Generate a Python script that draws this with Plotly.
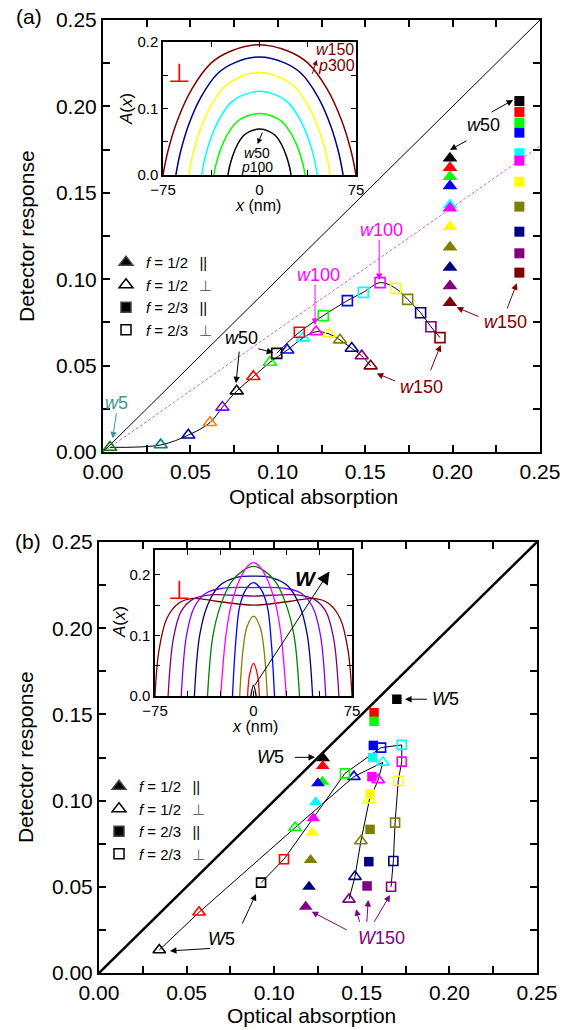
import plotly.graph_objects as go

W, H = 569, 1030
FONT = "Liberation Sans, Arial, sans-serif"

# ---------------- Panel (a) data ----------------
# open triangles, f = 1/2, perpendicular (w5 ... w150)
a_tri_open_x = [0.0040, 0.0330, 0.0488, 0.0612, 0.0683, 0.0765, 0.0860, 0.0955, 0.1054, 0.1144,
                0.1219, 0.1293, 0.1356, 0.1423, 0.1480, 0.1531]
a_tri_open_y = [0.0027, 0.0041, 0.0098, 0.0170, 0.0259, 0.0353, 0.0436, 0.0519, 0.0590, 0.0660,
                0.0696, 0.0683, 0.0648, 0.0600, 0.0556, 0.0498]
a_tri_open_c = ['#008000', '#008080', '#0000a0', '#ff8000', '#8000ff', '#000000', '#ff0000', '#00ff00',
                '#0000ff', '#00ffff', '#ff00ff', '#ffff00', '#808000', '#000080', '#800080', '#800000']
# open squares, f = 2/3, perpendicular (w50 ... w150)
a_sq_open_x = [0.0994, 0.1123, 0.1260, 0.1398, 0.1489, 0.1585, 0.1674, 0.1743, 0.1817, 0.1876, 0.1928]
a_sq_open_y = [0.0571, 0.0693, 0.0789, 0.0876, 0.0924, 0.0980, 0.0947, 0.0883, 0.0806, 0.0725, 0.0662]
# filled triangles, f = 1/2, parallel (w50 ... w150)
a_tri_fill_x = [0.1985] * 11
a_tri_fill_y = [0.1700, 0.1645, 0.1593, 0.1539, 0.1429, 0.1410, 0.1304, 0.1185, 0.1067, 0.0961, 0.0864]
# filled squares, f = 2/3, parallel (w50 ... w150)
a_sq_fill_x = [0.2382] * 11
a_sq_fill_y = [0.2031, 0.1968, 0.1906, 0.1848, 0.1729, 0.1686, 0.1564, 0.1420, 0.1275, 0.1150, 0.1038]
colors11 = ['#000000', '#ff0000', '#00ff00', '#0000ff', '#00ffff', '#ff00ff', '#ffff00', '#808000',
            '#000080', '#800080', '#800000']
diag_x = [0, 0.25]
diag_y = [0, 0.25]
a_dash_x = [0, 0.25]
a_dash_y = [0, 0.1771]

# inset (a) absorption profiles
ia_curves = [
    ('#800000', [-75, -71.25, -63.75, -52.5, -37.5, -22.5, 0, 22.5, 37.5, 52.5, 63.75, 71.25, 75],
     [0, 0.0353, 0.0823, 0.1294, 0.1686, 0.1862, 0.196, 0.1862, 0.1686, 0.1294, 0.0823, 0.0353, 0]),
    ('#000080', [-65, -61.75, -55.25, -45.5, -32.5, -19.5, 0, 19.5, 32.5, 45.5, 55.25, 61.75, 65],
     [0, 0.032, 0.0746, 0.1172, 0.1527, 0.1686, 0.1775, 0.1686, 0.1527, 0.1172, 0.0746, 0.032, 0]),
    ('#ffff00', [-55, -52.25, -46.75, -38.5, -27.5, -16.5, 0, 16.5, 27.5, 38.5, 46.75, 52.25, 55],
     [0, 0.0277, 0.0647, 0.1016, 0.1324, 0.1463, 0.154, 0.1463, 0.1324, 0.1016, 0.0647, 0.0277, 0]),
    ('#00ffff', [-45, -42.75, -38.25, -31.5, -22.5, -13.5, 0, 13.5, 22.5, 31.5, 38.25, 42.75, 45],
     [0, 0.0227, 0.0529, 0.0832, 0.1084, 0.1197, 0.126, 0.1197, 0.1084, 0.0832, 0.0529, 0.0227, 0]),
    ('#00ff00', [-35.5, -33.7, -30.2, -24.9, -17.8, -10.7, 0, 10.7, 17.8, 24.9, 30.2, 33.7, 35.5],
     [0, 0.0167, 0.0389, 0.0611, 0.0796, 0.0879, 0.0925, 0.0879, 0.0796, 0.0611, 0.0389, 0.0167, 0]),
    ('#000000', [-24.5, -23.3, -20.8, -17.2, -12.3, -7.4, 0, 7.4, 12.3, 17.2, 20.8, 23.3, 24.5],
     [0, 0.0124, 0.029, 0.0455, 0.0593, 0.0656, 0.069, 0.0656, 0.0593, 0.0455, 0.029, 0.0124, 0]),
]

# ---------------- Panel (b) data ----------------
colors10 = ['#000000', '#ff0000', '#00ff00', '#0000ff', '#00ffff', '#ff00ff', '#ffff00', '#808000',
            '#000080', '#800080']
b_tri_fill_x = [0.1280, 0.1277, 0.1275, 0.1250, 0.1237, 0.1223, 0.1218, 0.1208, 0.1199, 0.1180]
b_tri_fill_y = [0.1245, 0.1200, 0.1110, 0.1100, 0.0990, 0.0897, 0.0814, 0.0655, 0.0500, 0.0385]
b_sq_fill_x = [0.1700, 0.1570, 0.1570, 0.1566, 0.1562, 0.1558, 0.1547, 0.1547, 0.1540, 0.1530]
b_sq_fill_y = [0.1588, 0.1510, 0.1460, 0.1320, 0.1250, 0.1139, 0.1038, 0.0833, 0.0646, 0.0505]
b_tri_open_x = [0.0344, 0.0571, 0.1119, 0.1455, 0.1620, 0.1594, 0.1543, 0.1495, 0.1461, 0.1427]
b_tri_open_y = [0.0133, 0.0352, 0.0843, 0.1139, 0.1222, 0.1120, 0.1003, 0.0766, 0.0559, 0.0427]
b_sq_open_x = [0.0925, 0.1056, 0.1404, 0.1610, 0.1728, 0.1728, 0.1708, 0.1690, 0.1680, 0.1667]
b_sq_open_y = [0.0524, 0.0660, 0.1158, 0.1307, 0.1323, 0.1226, 0.1115, 0.0872, 0.0650, 0.0500]

ib_curves = [
    ('#800000', [-75, -72, -66, -57, -46, -27, 0, 27, 46, 57, 66, 72, 75],
     [0, 0.075, 0.128, 0.153, 0.161, 0.156, 0.150, 0.156, 0.161, 0.153, 0.128, 0.075, 0]),
    ('#800080', [-65, -61, -55, -46, -33, 0, 33, 46, 55, 61, 65],
     [0, 0.095, 0.140, 0.160, 0.167, 0.165, 0.167, 0.160, 0.140, 0.095, 0]),
    ('#8000ff', [-55, -51, -45, -36, -23, 0, 23, 36, 45, 51, 55],
     [0, 0.100, 0.147, 0.170, 0.178, 0.179, 0.178, 0.170, 0.147, 0.100, 0]),
    ('#000080', [-45, -41, -35, -26, -13, 0, 13, 26, 35, 41, 45],
     [0, 0.100, 0.150, 0.182, 0.196, 0.198, 0.196, 0.182, 0.150, 0.100, 0]),
    ('#008000', [-35, -31, -25, -17, -8, 0, 8, 17, 25, 31, 35],
     [0, 0.098, 0.150, 0.188, 0.207, 0.214, 0.207, 0.188, 0.150, 0.098, 0]),
    ('#ff00ff', [-25, -21, -17, -11, -5, 0, 5, 11, 17, 21, 25],
     [0, 0.100, 0.150, 0.190, 0.213, 0.220, 0.213, 0.190, 0.150, 0.100, 0]),
    ('#0000ff', [-16, -13.5, -10.5, -5.5, 0, 5.5, 10.5, 13.5, 16],
     [0, 0.090, 0.148, 0.177, 0.187, 0.177, 0.148, 0.090, 0]),
    ('#808000', [-10.5, -8, -5, 0, 5, 8, 10.5],
     [0, 0.076, 0.114, 0.132, 0.114, 0.076, 0]),
    ('#ff0000', [-4.5, -3, 0, 3, 4.5],
     [0, 0.035, 0.054, 0.035, 0]),
    ('#000000', [-2, 0, 2],
     [0, 0.018, 0]),
]

fig = go.Figure()

# ---------- panel (a) main ----------
fig.add_trace(go.Scatter(x=diag_x, y=diag_y, mode='lines', line=dict(color='black', width=1),
                         xaxis='x', yaxis='y', showlegend=False, hoverinfo='skip'))
fig.add_trace(go.Scatter(x=a_dash_x, y=a_dash_y, mode='lines',
                         line=dict(color='#cc66dd', width=1, dash='3px,2px'),
                         xaxis='x', yaxis='y', showlegend=False, hoverinfo='skip'))
fig.add_trace(go.Scatter(x=a_tri_open_x, y=a_tri_open_y, mode='lines+markers',
                         line=dict(color='black', width=1, shape='spline'),
                         marker=dict(symbol='triangle-up-open', size=11.5, color=a_tri_open_c,
                                     line=dict(width=1.6)),
                         xaxis='x', yaxis='y', showlegend=False))
fig.add_trace(go.Scatter(x=a_sq_open_x, y=a_sq_open_y, mode='lines+markers',
                         line=dict(color='black', width=1, shape='spline'),
                         marker=dict(symbol='square-open', size=10, color=colors11, line=dict(width=1.6)),
                         xaxis='x', yaxis='y', showlegend=False))
fig.add_trace(go.Scatter(x=a_tri_fill_x, y=a_tri_fill_y, mode='markers',
                         marker=dict(symbol='triangle-up', size=13, color=colors11, line=dict(width=0)),
                         xaxis='x', yaxis='y', showlegend=False))
fig.add_trace(go.Scatter(x=a_sq_fill_x, y=a_sq_fill_y, mode='markers',
                         marker=dict(symbol='square', size=10, color=colors11, line=dict(width=0)),
                         xaxis='x', yaxis='y', showlegend=False))

perp = "<span style='color:#666666'>\u22a5</span>"
gap = "\u00a0\u00a0\u2009"
legend_items = [
    ('triangle-up', "<i>f</i> = 1/2" + gap + "||", 12),
    ('triangle-up-open', "<i>f</i> = 1/2" + gap + perp, 12),
    ('square', "<i>f</i> = 2/3" + gap + "||", 10),
    ('square-open', "<i>f</i> = 2/3" + gap + perp, 10),
]
for sym, name, sz in legend_items:
    fig.add_trace(go.Scatter(x=[None], y=[None], mode='markers', name=name,
                             marker=dict(symbol=sym, size=sz, color='black', line=dict(width=1.5)),
                             xaxis='x', yaxis='y', legend='legend'))

# ---------- inset (a) ----------
for col, xs, ys in ia_curves:
    fig.add_trace(go.Scatter(x=xs, y=ys, mode='lines', line=dict(color=col, width=1.5, shape='spline'),
                             xaxis='x2', yaxis='y2', showlegend=False, hoverinfo='skip'))

# ---------- panel (b) main ----------
fig.add_trace(go.Scatter(x=diag_x, y=diag_y, mode='lines', line=dict(color='black', width=2.5),
                         xaxis='x3', yaxis='y3', showlegend=False, hoverinfo='skip'))
fig.add_trace(go.Scatter(x=b_tri_open_x, y=b_tri_open_y, mode='lines+markers',
                         line=dict(color='black', width=1),
                         marker=dict(symbol='triangle-up-open', size=11, color=colors10, line=dict(width=1.6)),
                         xaxis='x3', yaxis='y3', showlegend=False))
fig.add_trace(go.Scatter(x=b_sq_open_x, y=b_sq_open_y, mode='lines+markers',
                         line=dict(color='black', width=1),
                         marker=dict(symbol='square-open', size=9, color=colors10, line=dict(width=1.6)),
                         xaxis='x3', yaxis='y3', showlegend=False))
fig.add_trace(go.Scatter(x=b_tri_fill_x, y=b_tri_fill_y, mode='markers',
                         marker=dict(symbol='triangle-up', size=12, color=colors10, line=dict(width=0)),
                         xaxis='x3', yaxis='y3', showlegend=False))
fig.add_trace(go.Scatter(x=b_sq_fill_x, y=b_sq_fill_y, mode='markers',
                         marker=dict(symbol='square', size=9.5, color=colors10, line=dict(width=0)),
                         xaxis='x3', yaxis='y3', showlegend=False))
for sym, name, sz in legend_items:
    fig.add_trace(go.Scatter(x=[None], y=[None], mode='markers', name=name,
                             marker=dict(symbol=sym, size=sz, color='black', line=dict(width=1.5)),
                             xaxis='x3', yaxis='y3', legend='legend2'))

# ---------- inset (b) ----------
for col, xs, ys in ib_curves:
    fig.add_trace(go.Scatter(x=xs, y=ys, mode='lines', line=dict(color=col, width=1.3, shape='spline'),
                             xaxis='x4', yaxis='y4', showlegend=False, hoverinfo='skip'))


def fx(p):
    return p / W


def fy(p):
    return 1 - p / H


def main_axis(domain, anchor, font_size=21):
    return dict(domain=domain, anchor=anchor, range=[0, 0.25], dtick=0.05, tick0=0, tickformat='.2f',
                showline=True, linewidth=2, linecolor='black', mirror='allticks',
                ticks='inside', ticklen=7, tickwidth=1.5, tickcolor='black',
                minor=dict(dtick=0.025, ticks='inside', ticklen=7, tickwidth=1.5, tickcolor='black',
                           showgrid=False),
                showgrid=False, zeroline=False, automargin=False,
                tickfont=dict(size=font_size, color='black', family=FONT))


def inset_axis(domain, anchor, rng, tv, tt, minor_vals):
    return dict(domain=domain, anchor=anchor, range=rng, tickmode='array', tickvals=tv, ticktext=tt,
                showline=True, linewidth=1.5, linecolor='black', mirror='allticks',
                ticks='inside', ticklen=5, tickwidth=1.2, tickcolor='black',
                minor=dict(tickvals=minor_vals, ticks='inside', ticklen=5, tickwidth=1.2, tickcolor='black',
                           showgrid=False),
                showgrid=False, zeroline=False, automargin=False,
                tickfont=dict(size=15, color='black', family=FONT))


fig.update_layout(
    template='none',
    width=W, height=H, margin=dict(l=0, r=0, t=0, b=0, pad=0, autoexpand=False),
    paper_bgcolor='white', plot_bgcolor='rgba(0,0,0,0)',
    font=dict(family=FONT, color='black'),
    xaxis=main_axis([fx(103), fx(540)], 'y'),
    yaxis=main_axis([fy(452), fy(20)], 'x'),
    xaxis2=inset_axis([fx(163), fx(356)], 'y2', [-75, 75], [-75, 0, 75], ['\u221275', '0', '75'],
                      [-37.5, 37.5]),
    yaxis2=inset_axis([fy(175), fy(42)], 'x2', [0, 0.2], [0, 0.1, 0.2], ['0.0', '0.1', '0.2'],
                      [0.05, 0.15]),
    xaxis3=main_axis([fx(99), fx(537)], 'y3'),
    yaxis3=main_axis([fy(973), fy(542)], 'x3'),
    xaxis4=inset_axis([fx(155), fx(352)], 'y4', [-75, 75], [-75, 0, 75], ['\u221275', '0', '75'],
                      [-50, -25, 25, 50]),
    yaxis4=inset_axis([fy(696), fy(550)], 'x4', [0, 0.241], [0, 0.1, 0.2], ['0.0', '0.1', '0.2'],
                      [0.05, 0.15]),
    legend=dict(x=fx(106), y=fy(246), xanchor='left', yanchor='top', bgcolor='rgba(0,0,0,0)',
                font=dict(size=15, family=FONT, color='black'), tracegroupgap=0, itemwidth=30),
    legend2=dict(x=fx(99), y=fy(770), xanchor='left', yanchor='top', bgcolor='rgba(0,0,0,0)',
                 font=dict(size=15, family=FONT, color='black'), tracegroupgap=0, itemwidth=30),
    showlegend=True,
)

ann = []


def label(text, x, y, xr, yr, color='black', size=18, **kw):
    d = dict(text=text, x=x, y=y, xref=xr, yref=yr, showarrow=False, xanchor='center', yanchor='middle',
             font=dict(size=size, color=color, family=FONT))
    d.update(kw)
    ann.append(d)


def arrow(tx, ty, hx, hy, xr, yr, color='black', size=1.3, width=1.0, head=2):
    ann.append(dict(text='', x=hx, y=hy, ax=tx, ay=ty, xref=xr, yref=yr, axref=xr, ayref=yr,
                    showarrow=True, arrowhead=head, arrowsize=size, arrowwidth=width, arrowcolor=color))


# panel labels and axis titles
label('(a)', fx(29), fy(17), 'paper', 'paper', size=21)
label('(b)', fx(28), fy(541), 'paper', 'paper', size=21)
label('Detector response', fx(27), fy(236), 'paper', 'paper', size=21, textangle=-90)
label('Detector response', fx(25), fy(757), 'paper', 'paper', size=21, textangle=-90)
label('Optical absorption', fx(313), fy(496), 'paper', 'paper', size=21)
label('Optical absorption', fx(311), fy(1015), 'paper', 'paper', size=21)
# inset axis titles
label('<i>A</i>(<i>x</i>)', fx(126), fy(109), 'paper', 'paper', size=17, textangle=-90)
label('<i>x</i> (nm)', fx(258), fy(206), 'paper', 'paper', size=16)
label('<i>A</i>(<i>x</i>)', fx(119), fy(622), 'paper', 'paper', size=17, textangle=-90)
label('<i>x</i> (nm)', fx(255), fy(726), 'paper', 'paper', size=16)

# panel (a) annotations
DR = '#800000'
MG = '#ff00ff'
TL = '#3a9a9a'
label('<i>w</i>50', 0.2174, 0.1892, 'x', 'y')
arrow(0.2214, 0.1962, 0.2346, 0.2037, 'x', 'y')
arrow(0.2088, 0.1806, 0.1985, 0.1748, 'x', 'y')
label('<i>w</i>150', 0.2305, 0.0752, 'x', 'y', color=DR)
arrow(0.2309, 0.0822, 0.2367, 0.0976, 'x', 'y', color=DR)
arrow(0.2157, 0.0780, 0.2023, 0.0837, 'x', 'y', color=DR)
label('<i>w</i>150', 0.1823, 0.0378, 'x', 'y', color=DR)
arrow(0.1680, 0.0407, 0.1566, 0.0455, 'x', 'y', color=DR)
arrow(0.1871, 0.0465, 0.1932, 0.0619, 'x', 'y', color=DR)
label('<i>w</i>100', 0.1232, 0.1024, 'x', 'y', color=MG)
arrow(0.1213, 0.0977, 0.1213, 0.0735, 'x', 'y', color=MG)
label('<i>w</i>100', 0.1594, 0.1285, 'x', 'y', color=MG)
arrow(0.1580, 0.1237, 0.1580, 0.0995, 'x', 'y', color=MG)
label('<i>w</i>50', 0.0793, 0.0658, 'x', 'y')
arrow(0.0780, 0.0590, 0.0761, 0.0398, 'x', 'y')
arrow(0.0879, 0.0600, 0.0974, 0.0575, 'x', 'y')
label('<i>w</i>5', 0.0078, 0.0282, 'x', 'y', color=TL)
arrow(0.0078, 0.0233, 0.0055, 0.0079, 'x', 'y', color=TL)

# inset (a) annotations
label('\u22a5', -61.8, 0.153, 'x2', 'y2', color='red', size=26)
label('<i>w</i>50', -2.2, 0.0325, 'x2', 'y2', size=14)
label('<i>p</i>100', -2.2, 0.0115, 'x2', 'y2', size=14)
arrow(2.7, 0.066, -1.5, 0.0465, 'x2', 'y2', size=1.1)
label('<i>w</i>150', 58.3, 0.188, 'x2', 'y2', color=DR, size=16)
label('<i>p</i>300', 59.5, 0.164, 'x2', 'y2', color=DR, size=16)
arrow(40.6, 0.150, 44.5, 0.173, 'x2', 'y2', color=DR, size=1.1)

# panel (b) annotations
PU = '#800080'
label('<i>W</i>5', 0.1975, 0.1588, 'x3', 'y3')
arrow(0.1880, 0.1588, 0.1747, 0.1588, 'x3', 'y3')
label('<i>W</i>5', 0.0976, 0.1255, 'x3', 'y3')
arrow(0.1109, 0.1251, 0.1233, 0.1251, 'x3', 'y3')
label('<i>W</i>5', 0.0700, 0.0195, 'x3', 'y3')
arrow(0.0643, 0.0143, 0.0405, 0.0128, 'x3', 'y3')
arrow(0.0814, 0.0278, 0.0896, 0.0458, 'x3', 'y3')
label('<i>W</i>150', 0.1613, 0.0201, 'x3', 'y3', color=PU)
arrow(0.1423, 0.0245, 0.1214, 0.0356, 'x3', 'y3', color=PU)
arrow(0.1490, 0.0288, 0.1467, 0.0370, 'x3', 'y3', color=PU)
arrow(0.1528, 0.0288, 0.1537, 0.0423, 'x3', 'y3', color=PU)
arrow(0.1566, 0.0288, 0.1661, 0.0452, 'x3', 'y3', color=PU)

# inset (b) annotations
label('\u22a5', -56.2, 0.175, 'x4', 'y4', color='red', size=26)
label('<b><i>W</i></b>', 40.0, 0.1945, 'x4', 'y4', size=21)
arrow(0.25, 0.0154, 57.8, 0.2055, 'x4', 'y4', size=2.5, width=1.0)

fig.update_layout(annotations=ann)
fig.write_html("out.html")
